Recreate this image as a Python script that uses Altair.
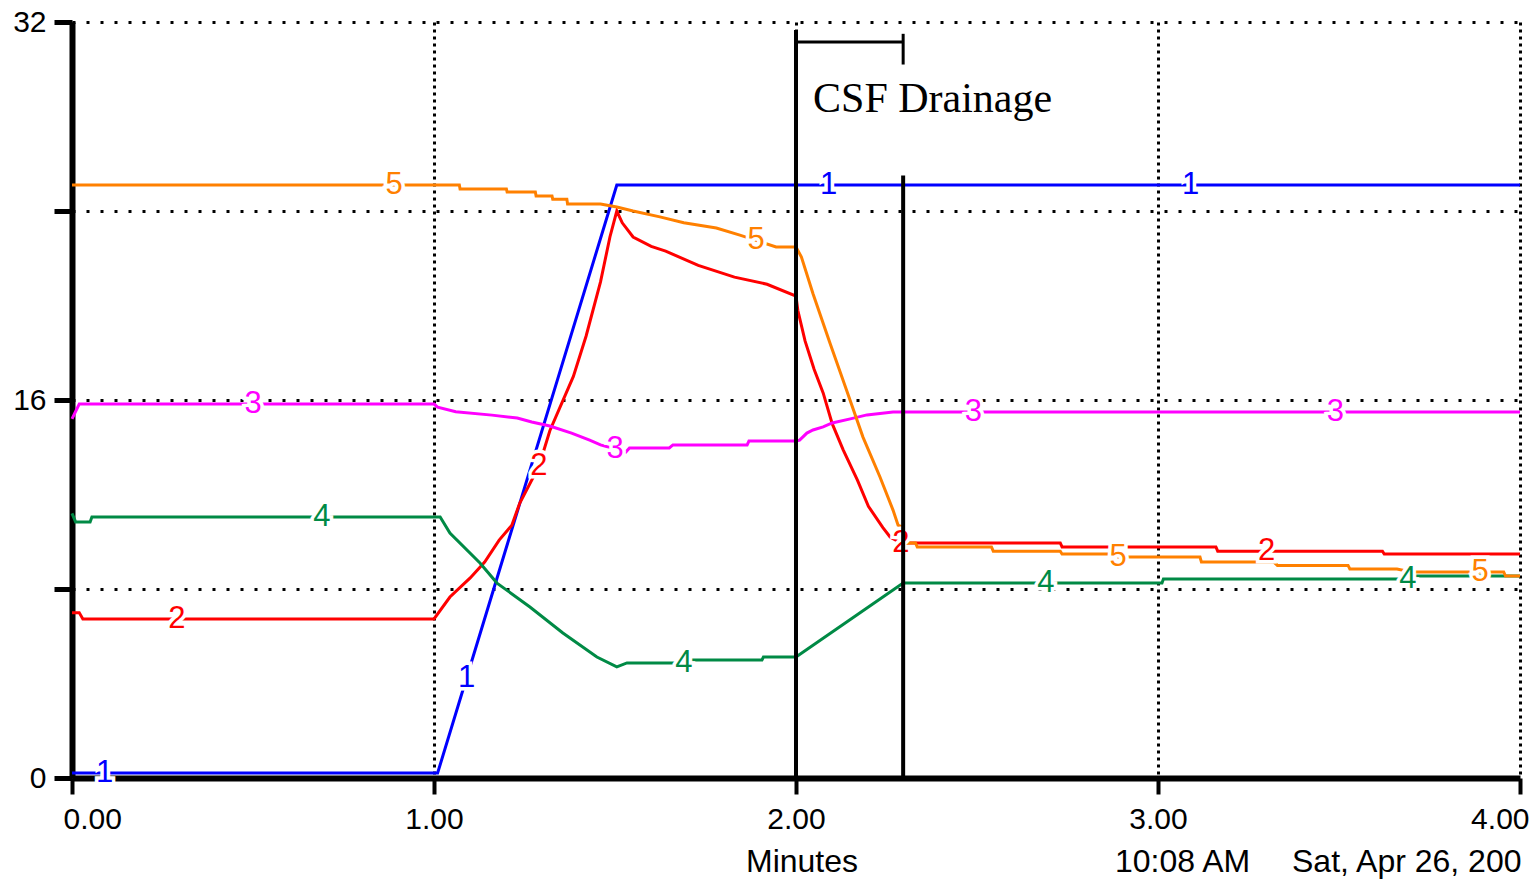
import altair as alt
import pandas as pd
import numpy as np

# ---- series data (time in minutes, value) ----
s1_t = [0.0, 1.01, 1.505, 4.0]
s1_v = [0.21, 0.21, 25.1, 25.1]

s2_t = [0.0, 0.02, 0.03, 1.0, 1.044, 1.10, 1.14, 1.18, 1.215, 1.237, 1.29, 1.32, 1.385, 1.42, 1.46,
        1.486, 1.505, 1.52, 1.55, 1.60, 1.64, 1.73, 1.83, 1.92, 2.0, 2.005, 2.025, 2.05, 2.075, 2.10,
        2.13, 2.17, 2.20, 2.24, 2.26, 2.29, 2.73, 2.735, 3.16, 3.165, 3.62, 3.625, 4.0]
s2_v = [7.0, 7.0, 6.73, 6.73, 7.66, 8.47, 9.14, 10.07, 10.7, 11.64, 13.2, 14.7, 17.0, 18.7, 21.0,
        22.9, 24.0, 23.5, 22.9, 22.5, 22.3, 21.7, 21.2, 20.9, 20.4, 19.8, 18.5, 17.3, 16.3, 15.0,
        13.9, 12.6, 11.5, 10.6, 10.2, 9.95, 9.95, 9.78, 9.78, 9.6, 9.6, 9.48, 9.48]

s3_t = [0.0, 0.02, 1.0, 1.01, 1.06, 1.16, 1.23, 1.27, 1.32, 1.38, 1.43, 1.46, 1.53, 1.54, 1.65,
        1.66, 1.865, 1.87, 2.0, 2.01, 2.03, 2.047, 2.075, 2.10, 2.15, 2.196, 2.268, 4.0]
s3_v = [15.2, 15.83, 15.83, 15.7, 15.5, 15.36, 15.24, 15.07, 14.9, 14.6, 14.3, 14.1, 13.8, 13.97, 13.97,
        14.1, 14.1, 14.26, 14.26, 14.3, 14.6, 14.73, 14.86, 15.03, 15.2, 15.37, 15.49, 15.49]

s4_t = [0.0, 0.01, 0.05, 0.055, 1.017, 1.044, 1.127, 1.174, 1.265, 1.356, 1.45, 1.505, 1.533,
        1.70, 1.71, 1.906, 1.91, 2.0, 2.296, 3.011, 3.015, 3.70, 3.705, 4.0]
s4_v = [11.2, 10.84, 10.84, 11.05, 11.05, 10.37, 9.1, 8.25, 7.24, 6.14, 5.12, 4.70, 4.87,
        4.87, 5.0, 5.0, 5.12, 5.12, 8.25, 8.25, 8.42, 8.42, 8.55, 8.55]

s5_t = [0.0, 1.07, 1.072, 1.20, 1.202, 1.28, 1.282, 1.326, 1.328, 1.367, 1.369, 1.46, 1.505, 1.55,
        1.624, 1.69, 1.78, 1.845, 1.945, 2.0, 2.015, 2.047, 2.094, 2.14, 2.185, 2.232, 2.268, 2.282,
        2.295, 2.30, 2.33, 2.335, 2.54, 2.545, 2.73, 2.735, 2.88, 2.89, 3.116, 3.12, 3.32, 3.33,
        3.525, 3.53, 3.66, 3.70, 3.955, 3.96, 4.0]
s5_v = [25.1, 25.1, 24.93, 24.93, 24.8, 24.8, 24.63, 24.63, 24.5, 24.5, 24.3, 24.3, 24.17, 24.0,
        23.75, 23.5, 23.28, 22.98, 22.48, 22.48, 22.05, 20.5, 18.4, 16.4, 14.43, 12.74, 11.34, 10.7,
        10.6, 9.95, 9.95, 9.78, 9.78, 9.6, 9.6, 9.48, 9.48, 9.35, 9.35, 9.14, 9.14, 9.0,
        9.0, 8.85, 8.85, 8.72, 8.72, 8.55, 8.55]

series_names = ["1", "2", "3", "4", "5"]
series_colors = ["#0000FF", "#FF0000", "#FF00FF", "#008A45", "#FF8000"]
series_t = [s1_t, s2_t, s3_t, s4_t, s5_t]
series_v = [s1_v, s2_v, s3_v, s4_v, s5_v]

# label positions (minutes) along each line
label_t = [
    [0.09, 1.09, 2.09, 3.09],
    [0.29, 1.29, 2.29, 3.30],
    [0.50, 1.50, 2.49, 3.49],
    [0.69, 1.69, 2.69, 3.69],
    [0.89, 1.89, 2.89, 3.89],
]

# annotation: CSF drainage window
drain_start = 2.0
drain_end = 2.296
vrule_x = [drain_start, drain_end]
vrule_top = [31.66, 25.5]
bracket_y = 31.15
tick_top, tick_bottom = 31.5, 30.2
annot_text = "CSF Drainage"
annot_x, annot_y = 2.047, 28.2

x_ticks = [0, 1, 2, 3, 4]
y_ticks = [0, 8, 16, 24, 32]

footer_texts = ["Minutes", "10:08 AM", "Sat, Apr 26, 200"]

rows = []
for name, ts, vs in zip(series_names, series_t, series_v):
    for i, (t, v) in enumerate(zip(ts, vs)):
        rows.append({"series": name, "t": t, "v": v, "i": i})
df = pd.DataFrame(rows)

lrows = []
for name, ts, vs, lts in zip(series_names, series_t, series_v, label_t):
    for lt in lts:
        lrows.append({"series": name, "t": lt, "v": float(np.interp(lt, ts, vs))})
ldf = pd.DataFrame(lrows)

color = alt.Color("series:N", scale=alt.Scale(domain=series_names, range=series_colors), legend=None)
xs = alt.Scale(domain=[0, 4], nice=False, zero=False)
ys = alt.Scale(domain=[0, 32], nice=False)

base_x = alt.X("t:Q", scale=xs, axis=alt.Axis(
    values=x_ticks, format=".2f", title=None, grid=True, gridDash=[3, 4], gridWidth=3,
    gridColor="black", gridOpacity=1, domainColor="black", domainWidth=6, tickColor="black",
    tickWidth=4, tickSize=16, labelFontSize=30, labelFont="Liberation Sans", labelColor="black",
    labelPadding=10, labelFlush=True, labelFlushOffset=9))
base_y = alt.Y("v:Q", scale=ys, axis=alt.Axis(
    values=y_ticks, title=None, grid=True, gridDash=[3, 11], gridWidth=3, gridColor="black",
    gridOpacity=1, domainColor="black", domainWidth=6, tickColor="black", tickWidth=5,
    tickSize=18, labelFontSize=30, labelFont="Liberation Sans", labelColor="black",
    labelPadding=8, labelFlush=False,
    labelExpr="datum.value % 16 == 0 ? datum.label : ''"))

lines = alt.Chart(df).mark_line(strokeWidth=3, strokeCap="butt").encode(
    x=base_x, y=base_y, color=color, order="i:Q", detail="series:N")

halo = alt.Chart(ldf).mark_text(fontSize=31, font="Liberation Sans", stroke="white",
                                strokeWidth=7, fill="white", baseline="middle").encode(
    x=alt.X("t:Q", scale=xs), y=alt.Y("v:Q", scale=ys), text="series:N")
labels = alt.Chart(ldf).mark_text(fontSize=31, font="Liberation Sans", baseline="middle").encode(
    x=alt.X("t:Q", scale=xs), y=alt.Y("v:Q", scale=ys), text="series:N", color=color)

vr = pd.DataFrame({"x": vrule_x, "y": [0, 0], "y2": vrule_top})
vrules = alt.Chart(vr).mark_rule(color="black", strokeWidth=4).encode(
    x=alt.X("x:Q", scale=xs), y=alt.Y("y:Q", scale=ys), y2="y2:Q")
br = pd.DataFrame({"x": [drain_start], "x2": [drain_end], "y": [bracket_y]})
bracket = alt.Chart(br).mark_rule(color="black", strokeWidth=3).encode(
    x=alt.X("x:Q", scale=xs), x2="x2:Q", y=alt.Y("y:Q", scale=ys))
bt = pd.DataFrame({"x": [drain_end], "y": [tick_bottom], "y2": [tick_top]})
btick = alt.Chart(bt).mark_rule(color="black", strokeWidth=3).encode(
    x=alt.X("x:Q", scale=xs), y=alt.Y("y:Q", scale=ys), y2="y2:Q")
at = pd.DataFrame({"x": [annot_x], "y": [annot_y], "text": [annot_text]})
annot = alt.Chart(at).mark_text(font="Liberation Serif", fontSize=42, align="left",
                                baseline="alphabetic", color="black").encode(
    x=alt.X("x:Q", scale=xs), y=alt.Y("y:Q", scale=ys), text="text:N")

footer_df = pd.DataFrame({"text": footer_texts})
foot_min = alt.Chart(footer_df.iloc[[0]]).mark_text(
    font="Liberation Sans", fontSize=32, align="center", baseline="middle", color="black").encode(
    x=alt.value(730), y=alt.value(840), text="text:N")
foot_time = alt.Chart(footer_df.iloc[[1]]).mark_text(
    font="Liberation Sans", fontSize=32, align="left", baseline="middle", color="black").encode(
    x=alt.value(1043), y=alt.value(840), text="text:N")
foot_date = alt.Chart(footer_df.iloc[[2]]).mark_text(
    font="Liberation Sans", fontSize=32, align="left", baseline="middle", color="black").encode(
    x=alt.value(1220), y=alt.value(840), text="text:N")

chart = alt.layer(lines, halo, labels, vrules, bracket, btick, annot, foot_min, foot_time, foot_date).properties(
    width=1448, height=756,
    autosize=alt.AutoSizeParams(type="none"),
    padding={"left": 72, "top": 22, "right": 17, "bottom": 101},
    background="white",
).configure_view(stroke=None)

chart.save("out.html", embed_options={"renderer": "svg", "actions": False})
